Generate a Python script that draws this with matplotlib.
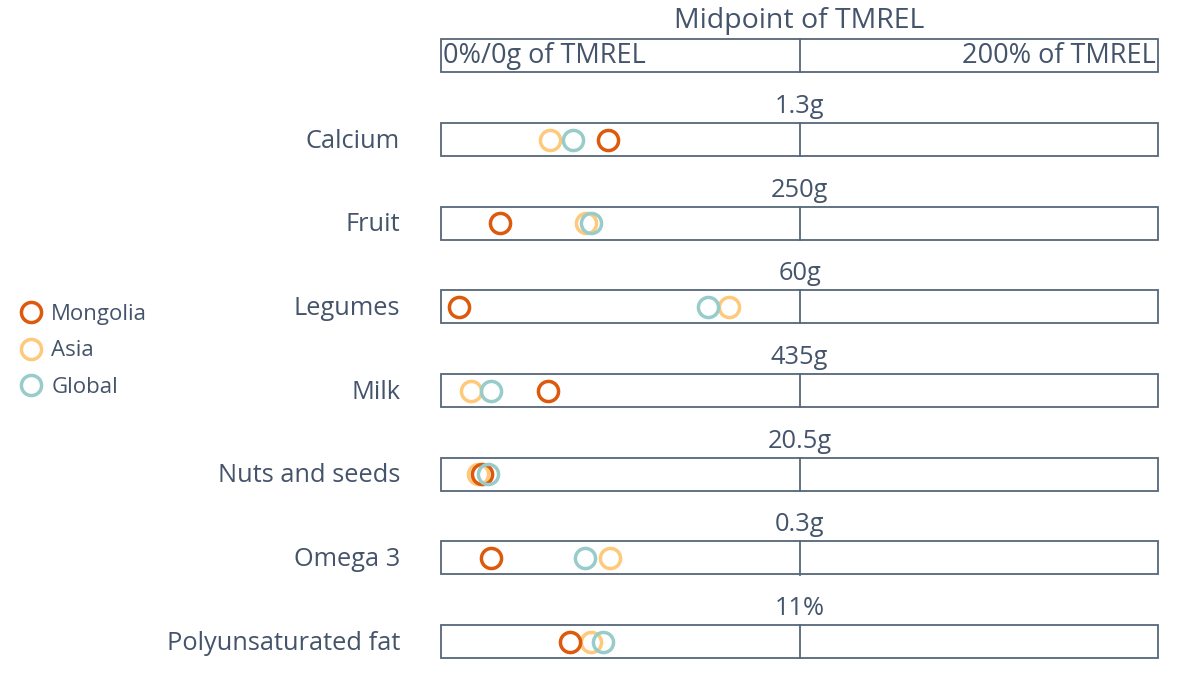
import matplotlib
matplotlib.use('Agg')
import numpy as np
from matplotlib import pyplot as plt
from matplotlib.patches import Rectangle

# data: percent of TMREL (0-200 scale, 100 = midpoint)
nutrients = ['Calcium', 'Fruit', 'Legumes', 'Milk', 'Nuts and seeds', 'Omega 3', 'Polyunsaturated fat']
tmrel = ['1.3g', '250g', '60g', '435g', '20.5g', '0.3g', '11%']
mongolia = [46.7, 16.5, 5.0, 29.9, 11.3, 13.9, 35.9]
asia = [30.5, 40.4, 80.2, 8.3, 10.2, 47.2, 41.9]
glob = [36.7, 41.9, 74.4, 13.9, 13.1, 40.1, 45.3]

txtc = '#44546a'
edgec = '#56677a'
cmon = '#dd5a0c'
casia = '#fec97b'
cglob = '#98cccb'

plt.rcParams['font.family'] = ['Open Sans', 'DejaVu Sans']

fig = plt.figure(figsize=(12, 7), dpi=100)
ax = fig.add_axes([441/1200, 0, (1158-441)/1200, 1])
ax.set_xlim(0, 200)
rowpx = 83.7
ax.set_ylim((700-139.5)/rowpx, -139.5/rowpx)
ax.axis('off')

hb = 16.5/rowpx  # half box height

# header box
ax.add_patch(Rectangle((0, -1-hb), 200, 2*hb, fill=False, ec=edgec, lw=1.3, clip_on=False))
ax.plot([100, 100], [-1-hb, -1+hb], color=edgec, lw=1.3, clip_on=False)
ax.text(100, -1-hb-0.05, 'Midpoint of TMREL', ha='center', va='bottom', fontsize=20.5, color=txtc)
ax.text(0.6, -1, '0%/0g of TMREL', ha='left', va='center', fontsize=19.5, color=txtc)
ax.text(199.4, -1, '200% of TMREL', ha='right', va='center', fontsize=19.5, color=txtc)

for i, nm in enumerate(nutrients):
    ax.add_patch(Rectangle((0, i-hb), 200, 2*hb, fill=False, ec=edgec, lw=1.3, clip_on=False))
    ax.plot([100, 100], [i-hb, i+hb], color=edgec, lw=1.3, clip_on=False)
    ax.text(100, i-hb-0.05, tmrel[i], ha='center', va='bottom', fontsize=18.3, color=txtc)
    ax.annotate(nm, xy=(0, i+0.02), xytext=(-29.5, 0), textcoords='offset points',
                ha='right', va='center', fontsize=18.3, color=txtc, annotation_clip=False)

y = np.arange(len(nutrients))
ms = 14.5
mw = 2.5
la = ax.plot(asia, y, 'o', ms=ms, mfc='none', mec=casia, mew=mw, ls='none', label='Asia', clip_on=False)[0]
lm = ax.plot(mongolia, y, 'o', ms=ms, mfc='none', mec=cmon, mew=mw, ls='none', label='Mongolia', clip_on=False)[0]
lg = ax.plot(glob, y, 'o', ms=ms, mfc='none', mec=cglob, mew=mw, ls='none', label='Global', clip_on=False)[0]

leg = fig.legend(handles=[lm, la, lg], labels=['Mongolia', 'Asia', 'Global'], loc='center left',
                 bbox_to_anchor=(0.002, 1-351/700), frameon=False, fontsize=16,
                 handlelength=0.8, handletextpad=0.5, labelspacing=0.7)
for t in leg.get_texts():
    t.set_color(txtc)

fig.savefig('out.png', dpi=100)
